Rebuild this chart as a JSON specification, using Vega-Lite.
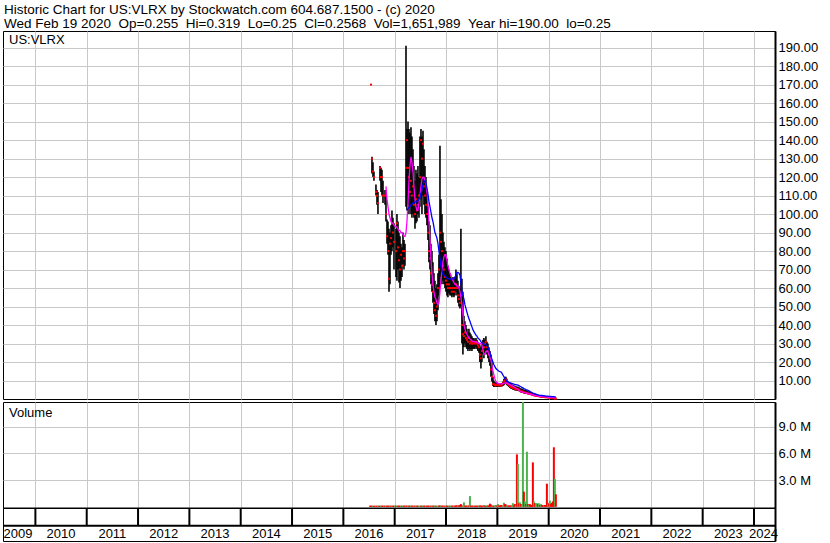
{
"$schema": "https://vega.github.io/schema/vega-lite/v6.json",
"background": "white",
"padding": {"left": 1, "top": 2, "right": 0, "bottom": 0},
"title": {"text": "Historic Chart for US:VLRX by Stockwatch.com 604.687.1500 - (c) 2020", "subtitle": "Wed Feb 19 2020 \u00a0Op=0.255 \u00a0Hi=0.319 \u00a0Lo=0.25 \u00a0Cl=0.2568 \u00a0Vol=1,651,989 \u00a0Year hi=190.00 \u00a0lo=0.25", "anchor": "start", "frame": "group", "font": "Liberation Sans", "fontSize": 13.5, "fontWeight": "normal", "color": "black", "subtitleFont": "Liberation Sans", "subtitleFontSize": 13.5, "subtitleColor": "black", "subtitlePadding": 1, "offset": 0, "dx": 1},
"config": {"view": {"stroke": "black", "strokeWidth": 1, "fill": "white"}, "font": "Liberation Sans", "axis": {"gridColor": "#c8c8c8", "gridOpacity": 1, "gridWidth": 1, "labelFont": "Liberation Sans", "labelFontSize": 13, "labelColor": "black", "labelOverlap": false}},
"spacing": 3,
"bounds": "flush",
"datasets": {
"price": [
{"t":2016.538,"hi":170,"lo":170,"cl":170},
{"t":2016.557,"hi":131,"lo":122,"cl":130},
{"t":2016.577,"hi":128,"lo":120,"cl":123},
{"t":2016.596,"hi":123,"lo":118,"cl":120},
{"t":2016.635,"hi":116,"lo":110,"cl":112},
{"t":2016.655,"hi":113,"lo":105,"cl":110},
{"t":2016.674,"hi":112,"lo":100,"cl":106},
{"t":2016.713,"hi":126,"lo":118,"cl":125},
{"t":2016.733,"hi":125,"lo":112,"cl":120},
{"t":2016.752,"hi":124,"lo":110,"cl":120},
{"t":2016.772,"hi":118,"lo":106,"cl":110},
{"t":2016.811,"hi":113,"lo":105,"cl":110},
{"t":2016.830,"hi":110,"lo":96,"cl":100,"m1":115},
{"t":2016.850,"hi":97,"lo":84,"cl":88,"m1":108},
{"t":2016.869,"hi":96,"lo":78,"cl":80,"m1":104},
{"t":2016.889,"hi":92,"lo":58,"cl":65,"m1":100},
{"t":2016.908,"hi":90,"lo":62,"cl":84,"m1":98},
{"t":2016.928,"hi":94,"lo":78,"cl":87,"m1":96},
{"t":2016.947,"hi":102,"lo":80,"cl":95,"m1":95},
{"t":2016.966,"hi":98,"lo":82,"cl":90,"m1":95},
{"t":2016.986,"hi":95,"lo":70,"cl":85,"m1":94},
{"t":2017.025,"hi":92,"lo":66,"cl":80,"m1":93},
{"t":2017.044,"hi":100,"lo":64,"cl":95,"m1":93},
{"t":2017.064,"hi":96,"lo":70,"cl":82,"m1":92},
{"t":2017.083,"hi":90,"lo":63,"cl":75,"m1":91},
{"t":2017.103,"hi":88,"lo":60,"cl":70,"m1":91},
{"t":2017.122,"hi":84,"lo":64,"cl":78,"m1":90},
{"t":2017.142,"hi":82,"lo":66,"cl":72,"m1":90},
{"t":2017.161,"hi":90,"lo":73,"cl":80,"m1":89},
{"t":2017.181,"hi":86,"lo":70,"cl":76,"m1":88},
{"t":2017.200,"hi":84,"lo":72,"cl":80,"m1":88},
{"t":2017.220,"hi":191,"lo":104,"cl":125,"m1":90},
{"t":2017.239,"hi":146,"lo":102,"cl":140,"m1":96,"m2":102},
{"t":2017.259,"hi":150,"lo":105,"cl":125,"m1":106,"m2":103},
{"t":2017.278,"hi":146,"lo":100,"cl":120,"m1":118,"m2":103.5},
{"t":2017.297,"hi":144,"lo":104,"cl":112,"m1":126,"m2":104},
{"t":2017.317,"hi":147,"lo":100,"cl":118,"m1":131,"m2":105},
{"t":2017.336,"hi":142,"lo":98,"cl":110,"m1":128,"m2":105.5},
{"t":2017.356,"hi":135,"lo":100,"cl":115,"m1":123,"m2":106},
{"t":2017.375,"hi":126,"lo":98,"cl":105,"m1":115,"m2":106},
{"t":2017.395,"hi":118,"lo":92,"cl":100,"m1":108,"m2":106.5},
{"t":2017.414,"hi":124,"lo":95,"cl":108,"m1":104,"m2":106.6},
{"t":2017.434,"hi":122,"lo":96,"cl":102,"m1":102,"m2":107},
{"t":2017.453,"hi":126,"lo":100,"cl":105,"m1":102,"m2":107.5},
{"t":2017.473,"hi":120,"lo":98,"cl":110,"m1":106,"m2":108},
{"t":2017.492,"hi":142,"lo":104,"cl":120,"m1":110,"m2":109},
{"t":2017.512,"hi":146,"lo":108,"cl":140,"m1":115,"m2":111},
{"t":2017.531,"hi":142,"lo":100,"cl":130,"m1":119,"m2":113},
{"t":2017.551,"hi":145,"lo":110,"cl":138,"m1":120,"m2":116},
{"t":2017.570,"hi":135,"lo":105,"cl":115,"m1":120,"m2":117.6},
{"t":2017.590,"hi":126,"lo":100,"cl":110,"m1":118,"m2":118},
{"t":2017.609,"hi":120,"lo":98,"cl":105,"m1":116,"m2":117},
{"t":2017.628,"hi":112,"lo":94,"cl":100,"m1":112,"m2":114},
{"t":2017.648,"hi":104,"lo":86,"cl":90,"m1":106,"m2":111},
{"t":2017.667,"hi":96,"lo":74,"cl":80,"m1":96,"m2":107},
{"t":2017.687,"hi":94,"lo":70,"cl":76,"m1":86,"m2":104},
{"t":2017.706,"hi":84,"lo":62,"cl":68,"m1":76,"m2":101},
{"t":2017.726,"hi":80,"lo":58,"cl":62,"m1":68,"m2":98},
{"t":2017.745,"hi":74,"lo":52,"cl":58,"m1":62,"m2":96},
{"t":2017.765,"hi":68,"lo":46,"cl":52,"m1":58,"m2":93},
{"t":2017.784,"hi":64,"lo":42,"cl":48,"m1":55,"m2":90},
{"t":2017.804,"hi":60,"lo":40,"cl":45,"m1":54,"m2":88.5},
{"t":2017.823,"hi":62,"lo":42,"cl":50,"m1":52,"m2":87},
{"t":2017.843,"hi":68,"lo":48,"cl":60,"m1":51,"m2":84},
{"t":2017.862,"hi":78,"lo":56,"cl":70,"m1":52,"m2":80},
{"t":2017.882,"hi":137,"lo":60,"cl":90,"m1":58,"m2":76},
{"t":2017.901,"hi":108,"lo":66,"cl":85,"m1":64,"m2":72},
{"t":2017.921,"hi":100,"lo":62,"cl":80,"m1":70,"m2":69},
{"t":2017.940,"hi":90,"lo":64,"cl":72,"m1":74,"m2":67.5},
{"t":2017.959,"hi":85,"lo":62,"cl":70,"m1":77,"m2":67},
{"t":2017.979,"hi":82,"lo":60,"cl":66,"m1":78,"m2":66.5},
{"t":2017.998,"hi":80,"lo":58,"cl":64,"m1":78,"m2":66},
{"t":2018.018,"hi":76,"lo":56,"cl":62,"m1":75,"m2":65.5},
{"t":2018.037,"hi":72,"lo":55,"cl":60,"m1":72,"m2":65},
{"t":2018.057,"hi":70,"lo":57,"cl":62,"m1":70,"m2":65},
{"t":2018.076,"hi":68,"lo":56,"cl":60,"m1":68,"m2":65},
{"t":2018.096,"hi":66,"lo":56,"cl":60,"m1":67,"m2":65},
{"t":2018.115,"hi":65,"lo":55,"cl":58,"m1":65,"m2":65},
{"t":2018.135,"hi":66,"lo":56,"cl":60,"m1":64,"m2":65},
{"t":2018.154,"hi":64,"lo":55,"cl":58,"m1":63,"m2":65},
{"t":2018.174,"hi":66,"lo":56,"cl":60,"m1":62,"m2":66},
{"t":2018.193,"hi":70,"lo":58,"cl":62,"m1":62,"m2":67},
{"t":2018.213,"hi":68,"lo":56,"cl":60,"m1":61,"m2":68.5},
{"t":2018.232,"hi":64,"lo":52,"cl":56,"m1":61,"m2":68.5},
{"t":2018.252,"hi":61,"lo":50,"cl":54,"m1":60,"m2":68},
{"t":2018.271,"hi":60,"lo":49,"cl":52,"m1":58,"m2":67},
{"t":2018.290,"hi":92,"lo":50,"cl":56,"m1":55,"m2":63},
{"t":2018.310,"hi":65,"lo":30,"cl":40,"m1":51,"m2":58},
{"t":2018.329,"hi":58,"lo":24,"cl":35,"m1":46,"m2":56},
{"t":2018.349,"hi":45,"lo":28,"cl":34,"m1":40,"m2":54},
{"t":2018.368,"hi":42,"lo":30,"cl":36,"m1":38,"m2":51},
{"t":2018.388,"hi":40,"lo":28,"cl":33,"m1":36,"m2":49},
{"t":2018.407,"hi":38,"lo":27,"cl":32,"m1":35,"m2":47},
{"t":2018.427,"hi":36,"lo":26,"cl":31,"m1":34,"m2":45},
{"t":2018.446,"hi":38,"lo":27,"cl":33,"m1":33,"m2":43.5},
{"t":2018.466,"hi":36,"lo":26,"cl":30,"m1":32.5,"m2":42},
{"t":2018.485,"hi":35,"lo":27,"cl":31,"m1":32,"m2":40.5},
{"t":2018.505,"hi":34,"lo":26,"cl":30,"m1":31.5,"m2":39},
{"t":2018.524,"hi":33,"lo":27,"cl":30,"m1":31,"m2":37.5},
{"t":2018.544,"hi":33,"lo":27,"cl":31,"m1":31,"m2":36.4},
{"t":2018.563,"hi":32,"lo":27,"cl":30,"m1":31,"m2":35.5},
{"t":2018.583,"hi":33,"lo":28,"cl":31,"m1":31,"m2":34.5},
{"t":2018.602,"hi":32,"lo":27,"cl":30,"m1":30.5,"m2":34},
{"t":2018.621,"hi":31,"lo":26,"cl":29,"m1":30.5,"m2":33},
{"t":2018.641,"hi":30,"lo":25,"cl":28,"m1":30,"m2":32.5},
{"t":2018.660,"hi":29,"lo":20,"cl":24,"m1":30,"m2":32},
{"t":2018.680,"hi":28,"lo":16.5,"cl":22,"m1":30,"m2":31},
{"t":2018.699,"hi":30,"lo":20,"cl":26,"m1":29,"m2":30.5},
{"t":2018.719,"hi":32,"lo":24,"cl":30,"m1":27,"m2":30},
{"t":2018.738,"hi":33,"lo":22,"cl":28,"m1":24,"m2":29.8},
{"t":2018.758,"hi":32,"lo":24,"cl":30,"m1":24.5,"m2":29.5},
{"t":2018.777,"hi":34,"lo":26,"cl":31,"m1":25.5,"m2":29.2},
{"t":2018.797,"hi":31,"lo":24,"cl":28,"m1":26,"m2":29},
{"t":2018.816,"hi":30,"lo":22,"cl":26,"m1":25.5,"m2":28},
{"t":2018.836,"hi":28,"lo":20,"cl":24,"m1":24,"m2":26.5},
{"t":2018.855,"hi":26,"lo":18,"cl":22,"m1":23,"m2":25},
{"t":2018.875,"hi":24,"lo":12,"cl":16,"m1":21,"m2":23},
{"t":2018.894,"hi":20,"lo":9.5,"cl":12,"m1":18,"m2":21.5},
{"t":2018.914,"hi":12,"lo":7,"cl":8,"m1":15,"m2":20},
{"t":2018.933,"hi":10,"lo":6.5,"cl":8,"m1":13,"m2":18.5},
{"t":2018.952,"hi":9,"lo":6.5,"cl":7.5,"m1":11,"m2":17.5},
{"t":2018.972,"hi":9,"lo":6.7,"cl":7.5,"m1":9.5,"m2":16.5},
{"t":2018.991,"hi":9,"lo":6.5,"cl":7.5,"m1":8.7,"m2":16},
{"t":2019.011,"hi":8.5,"lo":6.5,"cl":7.5,"m1":8.4,"m2":15.5},
{"t":2019.030,"hi":8.5,"lo":6.7,"cl":7.6,"m1":8.3,"m2":15},
{"t":2019.050,"hi":8.5,"lo":6.5,"cl":7.3,"m1":8.2,"m2":14.8},
{"t":2019.069,"hi":8.2,"lo":6.6,"cl":7.2,"m1":8.2,"m2":14.7},
{"t":2019.089,"hi":8.7,"lo":6.8,"cl":7.8,"m1":8.2,"m2":14},
{"t":2019.108,"hi":9.5,"lo":7,"cl":8.5,"m1":8.3,"m2":13},
{"t":2019.128,"hi":11,"lo":7.5,"cl":9.5,"m1":8.5,"m2":12},
{"t":2019.147,"hi":12,"lo":8,"cl":10,"m1":8.7,"m2":11},
{"t":2019.167,"hi":12,"lo":8.5,"cl":10.5,"m1":8.8,"m2":10.3},
{"t":2019.186,"hi":11,"lo":7.5,"cl":8.5,"m1":8.6,"m2":9.6},
{"t":2019.206,"hi":9.5,"lo":7,"cl":8,"m1":8.4,"m2":9.3},
{"t":2019.225,"hi":9,"lo":6.5,"cl":7.5,"m1":8,"m2":9},
{"t":2019.245,"hi":8.5,"lo":6,"cl":7,"m1":7.8,"m2":8.8},
{"t":2019.264,"hi":8.5,"lo":5.5,"cl":6.5,"m1":7.5,"m2":8.6},
{"t":2019.283,"hi":8,"lo":5.5,"cl":6.5,"m1":7.2,"m2":8.4},
{"t":2019.303,"hi":7.5,"lo":5,"cl":6,"m1":6.9,"m2":8.2},
{"t":2019.322,"hi":7.5,"lo":5,"cl":6,"m1":6.6,"m2":8},
{"t":2019.342,"hi":7,"lo":4.6,"cl":5.5,"m1":6.3,"m2":7.8},
{"t":2019.361,"hi":7,"lo":4.6,"cl":5.5,"m1":5.9,"m2":7.7},
{"t":2019.381,"hi":6.5,"lo":4.5,"cl":5.2,"m1":5.5,"m2":7.6},
{"t":2019.400,"hi":6.7,"lo":4.5,"cl":5.5,"m1":5.1,"m2":7.5},
{"t":2019.420,"hi":6.5,"lo":4.2,"cl":5,"m1":4.8,"m2":7.2},
{"t":2019.439,"hi":6,"lo":4,"cl":4.6,"m1":4.3,"m2":6.9},
{"t":2019.459,"hi":5.8,"lo":3.5,"cl":4.2,"m1":3.9,"m2":6.6},
{"t":2019.478,"hi":5.5,"lo":3.3,"cl":4,"m1":3.8,"m2":6.3},
{"t":2019.498,"hi":5.5,"lo":3.3,"cl":4,"m1":3.7,"m2":6},
{"t":2019.517,"hi":5,"lo":3,"cl":3.6,"m1":3.5,"m2":5.7},
{"t":2019.537,"hi":5,"lo":3,"cl":3.5,"m1":3.4,"m2":5.4},
{"t":2019.556,"hi":4.8,"lo":3,"cl":3.4,"m1":3.3,"m2":5.1},
{"t":2019.576,"hi":4.5,"lo":2.8,"cl":3.2,"m1":3.1,"m2":4.9},
{"t":2019.595,"hi":4.2,"lo":2.6,"cl":3,"m1":3,"m2":4.7},
{"t":2019.614,"hi":4,"lo":2.5,"cl":2.9,"m1":2.8,"m2":4.4},
{"t":2019.634,"hi":3.8,"lo":2.3,"cl":2.7,"m1":2.6,"m2":4.1},
{"t":2019.653,"hi":3.6,"lo":2.2,"cl":2.6,"m1":2.5,"m2":3.8},
{"t":2019.673,"hi":3.5,"lo":2,"cl":2.4,"m1":2.3,"m2":3.5},
{"t":2019.692,"hi":3.2,"lo":1.8,"cl":2.2,"m1":2.2,"m2":3.2},
{"t":2019.712,"hi":3,"lo":1.7,"cl":2,"m1":2,"m2":3},
{"t":2019.731,"hi":2.8,"lo":1.6,"cl":1.9,"m1":1.9,"m2":2.8},
{"t":2019.751,"hi":2.6,"lo":1.5,"cl":1.8,"m1":1.8,"m2":2.6},
{"t":2019.770,"hi":2.5,"lo":1.4,"cl":1.7,"m1":1.7,"m2":2.4},
{"t":2019.790,"hi":2.3,"lo":1.3,"cl":1.6,"m1":1.6,"m2":2.2},
{"t":2019.809,"hi":2.2,"lo":1.2,"cl":1.5,"m1":1.5,"m2":2.1},
{"t":2019.829,"hi":2,"lo":1.1,"cl":1.4,"m1":1.5,"m2":2},
{"t":2019.848,"hi":2,"lo":1,"cl":1.3,"m1":1.4,"m2":2},
{"t":2019.868,"hi":1.9,"lo":1,"cl":1.3,"m1":1.35,"m2":1.9},
{"t":2019.887,"hi":1.8,"lo":0.9,"cl":1.2,"m1":1.3,"m2":1.8},
{"t":2019.907,"hi":1.7,"lo":0.9,"cl":1.1,"m1":1.2,"m2":1.75},
{"t":2019.926,"hi":1.6,"lo":0.8,"cl":1,"m1":1.15,"m2":1.7},
{"t":2019.946,"hi":1.5,"lo":0.8,"cl":1,"m1":1.1,"m2":1.6},
{"t":2019.965,"hi":1.4,"lo":0.7,"cl":0.9,"m1":1,"m2":1.55},
{"t":2019.984,"hi":1.3,"lo":0.7,"cl":0.9,"m1":0.95,"m2":1.5},
{"t":2020.004,"hi":1.2,"lo":0.6,"cl":0.8,"m1":0.9,"m2":1.45},
{"t":2020.023,"hi":1.1,"lo":0.55,"cl":0.7,"m1":0.85,"m2":1.4},
{"t":2020.043,"hi":1,"lo":0.5,"cl":0.6,"m1":0.8,"m2":1.35},
{"t":2020.062,"hi":0.9,"lo":0.45,"cl":0.55,"m1":0.75,"m2":1.3},
{"t":2020.082,"hi":0.8,"lo":0.35,"cl":0.45,"m1":0.7,"m2":1.3},
{"t":2020.101,"hi":0.7,"lo":0.3,"cl":0.4,"m1":0.65,"m2":1.25},
{"t":2020.121,"hi":0.6,"lo":0.27,"cl":0.3,"m1":0.6,"m2":1.2},
{"t":2020.140,"hi":0.32,"lo":0.25,"cl":0.26,"m1":0.55,"m2":1.2}
],
"vol": [
{"t":2016.519,"v":0.12,"c":"r"},{"t":2016.538,"v":0.12,"c":"r"},{"t":2016.557,"v":0.12,"c":"r"},{"t":2016.577,"v":0.1,"c":"g"},{"t":2016.596,"v":0.12,"c":"r"},{"t":2016.616,"v":0.1,"c":"r"},{"t":2016.635,"v":0.12,"c":"g"},{"t":2016.655,"v":0.12,"c":"r"},{"t":2016.674,"v":0.12,"c":"g"},{"t":2016.694,"v":0.1,"c":"r"},
{"t":2016.713,"v":0.12,"c":"r"},{"t":2016.733,"v":0.12,"c":"g"},{"t":2016.752,"v":0.12,"c":"r"},{"t":2016.772,"v":0.12,"c":"r"},{"t":2016.791,"v":0.12,"c":"g"},{"t":2016.811,"v":0.12,"c":"r"},{"t":2016.830,"v":0.12,"c":"g"},{"t":2016.850,"v":0.12,"c":"r"},{"t":2016.869,"v":0.12,"c":"r"},{"t":2016.889,"v":0.12,"c":"r"},
{"t":2016.908,"v":0.12,"c":"g"},{"t":2016.928,"v":0.12,"c":"r"},{"t":2016.947,"v":0.12,"c":"g"},{"t":2016.966,"v":0.12,"c":"r"},{"t":2016.986,"v":0.12,"c":"r"},{"t":2017.005,"v":0.12,"c":"g"},{"t":2017.025,"v":0.12,"c":"r"},{"t":2017.044,"v":0.12,"c":"g"},{"t":2017.064,"v":0.12,"c":"r"},{"t":2017.083,"v":0.12,"c":"r"},
{"t":2017.103,"v":0.12,"c":"r"},{"t":2017.122,"v":0.12,"c":"g"},{"t":2017.142,"v":0.12,"c":"r"},{"t":2017.161,"v":0.12,"c":"g"},{"t":2017.181,"v":0.12,"c":"r"},{"t":2017.200,"v":0.12,"c":"r"},{"t":2017.220,"v":0.15,"c":"g"},{"t":2017.239,"v":0.12,"c":"r"},{"t":2017.259,"v":0.12,"c":"g"},{"t":2017.278,"v":0.12,"c":"r"},
{"t":2017.297,"v":0.12,"c":"r"},{"t":2017.317,"v":0.12,"c":"g"},{"t":2017.336,"v":0.12,"c":"r"},{"t":2017.356,"v":0.12,"c":"r"},{"t":2017.375,"v":0.12,"c":"g"},{"t":2017.395,"v":0.12,"c":"r"},{"t":2017.414,"v":0.12,"c":"g"},{"t":2017.434,"v":0.12,"c":"r"},{"t":2017.453,"v":0.12,"c":"r"},{"t":2017.473,"v":0.12,"c":"g"},
{"t":2017.492,"v":0.12,"c":"g"},{"t":2017.512,"v":0.12,"c":"r"},{"t":2017.531,"v":0.12,"c":"r"},{"t":2017.551,"v":0.12,"c":"g"},{"t":2017.570,"v":0.12,"c":"r"},{"t":2017.590,"v":0.12,"c":"r"},{"t":2017.609,"v":0.12,"c":"g"},{"t":2017.628,"v":0.12,"c":"r"},{"t":2017.648,"v":0.12,"c":"r"},{"t":2017.667,"v":0.12,"c":"r"},
{"t":2017.687,"v":0.12,"c":"g"},{"t":2017.706,"v":0.12,"c":"r"},{"t":2017.726,"v":0.12,"c":"g"},{"t":2017.745,"v":0.12,"c":"r"},{"t":2017.765,"v":0.12,"c":"r"},{"t":2017.784,"v":0.12,"c":"g"},{"t":2017.804,"v":0.12,"c":"r"},{"t":2017.823,"v":0.12,"c":"g"},{"t":2017.843,"v":0.12,"c":"g"},{"t":2017.862,"v":0.12,"c":"r"},
{"t":2017.882,"v":0.15,"c":"r"},{"t":2017.901,"v":0.12,"c":"g"},{"t":2017.921,"v":0.12,"c":"r"},{"t":2017.940,"v":0.12,"c":"r"},{"t":2017.959,"v":0.12,"c":"g"},{"t":2017.979,"v":0.12,"c":"r"},{"t":2017.998,"v":0.12,"c":"g"},{"t":2018.018,"v":0.12,"c":"r"},{"t":2018.037,"v":0.12,"c":"r"},{"t":2018.057,"v":0.12,"c":"g"},
{"t":2018.076,"v":0.12,"c":"r"},{"t":2018.096,"v":0.12,"c":"g"},{"t":2018.115,"v":0.12,"c":"r"},{"t":2018.135,"v":0.12,"c":"r"},{"t":2018.154,"v":0.12,"c":"g"},{"t":2018.174,"v":0.12,"c":"r"},{"t":2018.193,"v":0.15,"c":"r"},{"t":2018.213,"v":0.15,"c":"r"},{"t":2018.232,"v":0.12,"c":"g"},{"t":2018.252,"v":0.15,"c":"r"},
{"t":2018.271,"v":0.2,"c":"r"},{"t":2018.290,"v":0.3,"c":"r"},{"t":2018.310,"v":0.15,"c":"r"},{"t":2018.329,"v":0.12,"c":"g"},{"t":2018.349,"v":0.5,"c":"g"},{"t":2018.368,"v":0.12,"c":"r"},{"t":2018.388,"v":0.12,"c":"r"},{"t":2018.407,"v":0.12,"c":"r"},{"t":2018.427,"v":0.12,"c":"g"},{"t":2018.446,"v":0.15,"c":"r"},
{"t":2018.466,"v":1.2,"c":"g"},{"t":2018.485,"v":0.12,"c":"r"},{"t":2018.505,"v":0.12,"c":"r"},{"t":2018.524,"v":0.12,"c":"r"},{"t":2018.544,"v":0.12,"c":"g"},{"t":2018.563,"v":0.12,"c":"r"},{"t":2018.583,"v":0.12,"c":"r"},{"t":2018.602,"v":0.12,"c":"r"},{"t":2018.621,"v":0.12,"c":"r"},{"t":2018.641,"v":0.12,"c":"g"},
{"t":2018.660,"v":0.15,"c":"r"},{"t":2018.680,"v":0.12,"c":"r"},{"t":2018.699,"v":0.12,"c":"r"},{"t":2018.719,"v":0.12,"c":"r"},{"t":2018.738,"v":0.2,"c":"g"},{"t":2018.758,"v":0.12,"c":"r"},{"t":2018.777,"v":0.12,"c":"r"},{"t":2018.797,"v":0.15,"c":"g"},{"t":2018.816,"v":0.12,"c":"r"},{"t":2018.836,"v":0.15,"c":"r"},
{"t":2018.855,"v":0.35,"c":"r"},{"t":2018.875,"v":0.25,"c":"r"},{"t":2018.894,"v":0.12,"c":"g"},{"t":2018.914,"v":0.12,"c":"r"},{"t":2018.933,"v":0.12,"c":"r"},{"t":2018.952,"v":0.15,"c":"g"},{"t":2018.972,"v":0.2,"c":"g"},{"t":2018.991,"v":0.12,"c":"r"},{"t":2019.011,"v":0.3,"c":"g"},{"t":2019.030,"v":0.15,"c":"r"},
{"t":2019.050,"v":0.12,"c":"r"},{"t":2019.069,"v":0.2,"c":"r"},{"t":2019.089,"v":0.15,"c":"r"},{"t":2019.108,"v":0.12,"c":"g"},{"t":2019.128,"v":0.45,"c":"g"},{"t":2019.147,"v":0.3,"c":"r"},{"t":2019.167,"v":0.25,"c":"r"},{"t":2019.186,"v":0.15,"c":"g"},{"t":2019.206,"v":0.12,"c":"r"},{"t":2019.225,"v":0.15,"c":"r"},
{"t":2019.245,"v":0.12,"c":"r"},{"t":2019.264,"v":0.15,"c":"r"},{"t":2019.283,"v":0.2,"c":"g"},{"t":2019.303,"v":0.4,"c":"g"},{"t":2019.322,"v":0.15,"c":"r"},{"t":2019.342,"v":0.3,"c":"r"},{"t":2019.361,"v":0.2,"c":"g"},{"t":2019.381,"v":5.9,"c":"r"},{"t":2019.400,"v":4.8,"c":"g"},{"t":2019.420,"v":0.4,"c":"r"},
{"t":2019.439,"v":0.5,"c":"g"},{"t":2019.459,"v":0.3,"c":"r"},{"t":2019.478,"v":0.2,"c":"g"},{"t":2019.498,"v":11.8,"c":"g"},{"t":2019.517,"v":1.7,"c":"r"},{"t":2019.537,"v":0.6,"c":"g"},{"t":2019.556,"v":0.3,"c":"r"},{"t":2019.576,"v":6.2,"c":"g"},{"t":2019.595,"v":0.3,"c":"r"},{"t":2019.614,"v":0.2,"c":"g"},
{"t":2019.634,"v":0.3,"c":"r"},{"t":2019.653,"v":0.15,"c":"r"},{"t":2019.673,"v":0.2,"c":"r"},{"t":2019.692,"v":5.0,"c":"r"},{"t":2019.712,"v":0.6,"c":"g"},{"t":2019.731,"v":0.4,"c":"r"},{"t":2019.751,"v":0.4,"c":"g"},{"t":2019.770,"v":0.4,"c":"g"},{"t":2019.790,"v":0.3,"c":"r"},{"t":2019.809,"v":0.4,"c":"g"},
{"t":2019.829,"v":0.2,"c":"r"},{"t":2019.848,"v":0.3,"c":"g"},{"t":2019.868,"v":0.2,"c":"r"},{"t":2019.887,"v":0.15,"c":"r"},{"t":2019.907,"v":0.2,"c":"g"},{"t":2019.926,"v":0.2,"c":"r"},{"t":2019.946,"v":0.15,"c":"r"},{"t":2019.965,"v":2.6,"c":"r"},{"t":2019.984,"v":0.3,"c":"g"},{"t":2020.004,"v":0.4,"c":"r"},
{"t":2020.023,"v":0.7,"c":"g"},{"t":2020.043,"v":0.3,"c":"r"},{"t":2020.062,"v":0.45,"c":"r"},{"t":2020.082,"v":0.6,"c":"r"},{"t":2020.101,"v":6.7,"c":"r"},{"t":2020.121,"v":3.15,"c":"g"},{"t":2020.140,"v":1.4,"c":"r"}
],
"years": [{"t":2010},{"t":2011},{"t":2012},{"t":2013},{"t":2014},{"t":2015},{"t":2016},{"t":2017},{"t":2018},{"t":2019},{"t":2020},{"t":2021},{"t":2022},{"t":2023},{"t":2024}],
"labels": [{"lt":2009.661,"label":"2009"},{"lt":2010.5,"label":"2010"},{"lt":2011.5,"label":"2011"},{"lt":2012.5,"label":"2012"},{"lt":2013.5,"label":"2013"},{"lt":2014.5,"label":"2014"},{"lt":2015.5,"label":"2015"},{"lt":2016.5,"label":"2016"},{"lt":2017.5,"label":"2017"},{"lt":2018.5,"label":"2018"},{"lt":2019.5,"label":"2019"},{"lt":2020.5,"label":"2020"},{"lt":2021.5,"label":"2021"},{"lt":2022.5,"label":"2022"},{"lt":2023.5,"label":"2023"},{"lt":2024.185,"label":"2024"}],
"ptag": [{"lt":2009.486,"py":194.3,"label":"US:VLRX"}],
"vtag": [{"lt":2009.486,"py":10.6,"label":"Volume"}]
},
"vconcat": [
{
"width": 772, "height": 368,
"layer": [
{"data": {"name": "price"}, "mark": {"type": "rule", "color": "black", "strokeWidth": 1.6}, "encoding": {"x": {"field": "t", "type": "quantitative", "scale": {"domain": [2009.369, 2024.409], "nice": false, "zero": false}, "axis": {"values": [2010,2011,2012,2013,2014,2015,2016,2017,2018,2019,2020,2021,2022,2023,2024], "labels": false, "ticks": false, "domain": false, "grid": true, "title": null}}, "y": {"field": "hi", "type": "quantitative", "title": null, "scale": {"domain": [0, 199], "nice": false, "zero": false}, "axis": {"orient": "right", "values": [10,20,30,40,50,60,70,80,90,100,110,120,130,140,150,160,170,180,190], "format": ".2f", "labelOverlap": false, "labelSeparation": -20, "labelBound": false, "labelFlush": false, "ticks": false, "tickSize": 0, "domain": true, "domainColor": "black", "domainWidth": 2, "grid": true, "labelPadding": 3, "labelFontSize": 13}}, "y2": {"field": "lo"}}},
{"data": {"name": "price"}, "mark": {"type": "square", "color": "#ff0000", "size": 4, "opacity": 1}, "encoding": {"x": {"field": "t", "type": "quantitative"}, "y": {"field": "cl", "type": "quantitative", "title": null, "axis": {"orient": "right", "values": [10,20,30,40,50,60,70,80,90,100,110,120,130,140,150,160,170,180,190], "format": ".2f", "labelOverlap": false, "labelSeparation": -20, "labelBound": false, "labelFlush": false, "ticks": false, "tickSize": 0, "domain": true, "domainColor": "black", "domainWidth": 2, "grid": true, "labelPadding": 3, "labelFontSize": 13}}}},
{"data": {"name": "price"}, "mark": {"type": "line", "color": "#ff00ff", "strokeWidth": 1.3}, "encoding": {"x": {"field": "t", "type": "quantitative"}, "y": {"field": "m1", "type": "quantitative", "title": null, "axis": {"orient": "right", "values": [10,20,30,40,50,60,70,80,90,100,110,120,130,140,150,160,170,180,190], "format": ".2f", "labelOverlap": false, "labelSeparation": -20, "labelBound": false, "labelFlush": false, "ticks": false, "tickSize": 0, "domain": true, "domainColor": "black", "domainWidth": 2, "grid": true, "labelPadding": 3, "labelFontSize": 13}}}},
{"data": {"name": "price"}, "mark": {"type": "line", "color": "#0000ff", "strokeWidth": 1.3}, "encoding": {"x": {"field": "t", "type": "quantitative"}, "y": {"field": "m2", "type": "quantitative", "title": null, "axis": {"orient": "right", "values": [10,20,30,40,50,60,70,80,90,100,110,120,130,140,150,160,170,180,190], "format": ".2f", "labelOverlap": false, "labelSeparation": -20, "labelBound": false, "labelFlush": false, "ticks": false, "tickSize": 0, "domain": true, "domainColor": "black", "domainWidth": 2, "grid": true, "labelPadding": 3, "labelFontSize": 13}}}},
{"data": {"name": "ptag"}, "mark": {"type": "text", "align": "left", "baseline": "middle", "fontSize": 13, "font": "Liberation Sans", "color": "black"}, "encoding": {"x": {"field": "lt", "type": "quantitative"}, "y": {"field": "py", "type": "quantitative", "title": null, "axis": {"orient": "right", "values": [10,20,30,40,50,60,70,80,90,100,110,120,130,140,150,160,170,180,190], "format": ".2f", "labelOverlap": false, "labelSeparation": -20, "labelBound": false, "labelFlush": false, "ticks": false, "tickSize": 0, "domain": true, "domainColor": "black", "domainWidth": 2, "grid": true, "labelPadding": 3, "labelFontSize": 13}}, "text": {"field": "label"}}}
]
},
{
"spacing": 0,
"bounds": "flush",
"vconcat": [
{
"width": 772, "height": 106,
"layer": [
{"data": {"name": "vol"}, "mark": {"type": "rule", "strokeWidth": 2}, "encoding": {"x": {"field": "t", "type": "quantitative", "scale": {"domain": [2009.369, 2024.409], "nice": false, "zero": false}, "axis": {"values": [2010,2011,2012,2013,2014,2015,2016,2017,2018,2019,2020,2021,2022,2023,2024], "labels": false, "ticks": false, "domain": true, "domainColor": "black", "domainWidth": 2, "grid": true, "title": null}}, "y": {"field": "v", "type": "quantitative", "title": null, "scale": {"domain": [-0.14, 11.8], "nice": false, "zero": false}, "axis": {"orient": "right", "values": [3, 6, 9], "labelExpr": "format(datum.value, '.1f') + ' M'", "labelOverlap": false, "ticks": false, "tickSize": 0, "domain": true, "domainColor": "black", "domainWidth": 2, "grid": true, "labelPadding": 3, "labelFontSize": 13}}, "y2": {"datum": 0}, "color": {"field": "c", "type": "nominal", "scale": {"domain": ["g", "r"], "range": ["#4cb34c", "#ff0000"]}, "legend": null}}},
{"data": {"name": "vtag"}, "mark": {"type": "text", "align": "left", "baseline": "middle", "fontSize": 13, "font": "Liberation Sans", "color": "black"}, "encoding": {"x": {"field": "lt", "type": "quantitative"}, "y": {"field": "py", "type": "quantitative", "title": null}, "text": {"field": "label"}}}
]
},
{
"width": 772, "height": 33,
"layer": [
{"data": {"name": "years"}, "mark": {"type": "rule", "color": "black", "strokeWidth": 2}, "encoding": {"x": {"field": "t", "type": "quantitative", "scale": {"domain": [2009.369, 2024.409], "nice": false, "zero": false}, "axis": null}, "y": {"datum": 0.46, "type": "quantitative", "scale": {"domain": [0, 1], "nice": false}, "axis": {"orient": "right", "labels": false, "ticks": false, "grid": false, "domain": true, "domainColor": "black", "domainWidth": 2, "title": null}}, "y2": {"datum": 1}}},
{"data": {"values": [{}]}, "mark": {"type": "rule", "color": "black", "strokeWidth": 2}, "encoding": {"y": {"datum": 0.46, "type": "quantitative"}}},
{"data": {"name": "labels"}, "mark": {"type": "text", "fontSize": 13, "font": "Liberation Sans", "color": "black", "baseline": "middle"}, "encoding": {"x": {"field": "lt", "type": "quantitative"}, "y": {"datum": 0.22, "type": "quantitative"}, "text": {"field": "label"}}}
]
}
]
}
]
}
